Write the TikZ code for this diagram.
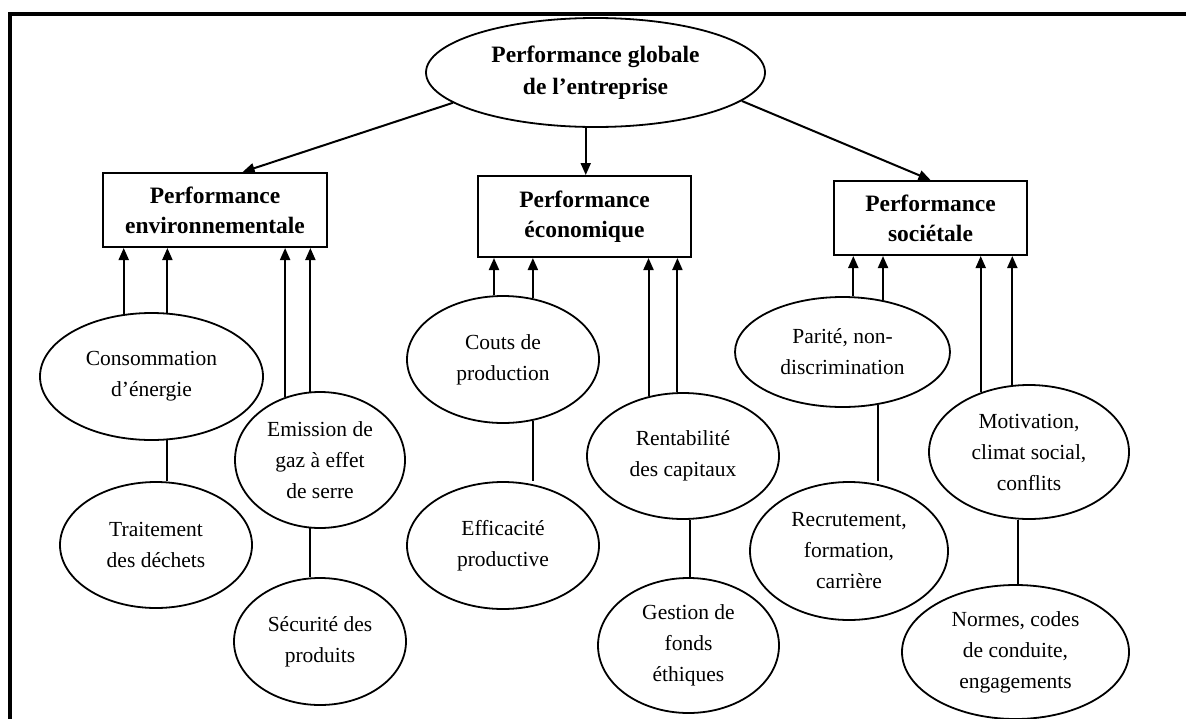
\documentclass[tikz,border=0pt]{standalone}
\usepackage{fontspec}
\setmainfont{Liberation Serif}
\usetikzlibrary{shapes.geometric,arrows.meta}

\tikzset{
  goal/.style={ellipse, draw, line width=1.8pt, inner sep=0pt, align=center,
    font=\bfseries\fontsize{23.5}{32}\selectfont},
  pillar/.style={rectangle, draw, line width=2pt, inner sep=0pt, align=center,
    font=\bfseries\fontsize{23.5}{30}\selectfont},
  factor/.style={ellipse, draw, line width=1.8pt, inner sep=0pt, align=center,
    font=\fontsize{21.5}{31}\selectfont},
  down/.style={-{Triangle[length=12pt,width=10pt]}, line width=2pt},
  up/.style={-{Triangle[length=12pt,width=10pt]}, line width=2pt},
  link/.style={line width=2pt},
}

\begin{document}
\begin{tikzpicture}[x=1pt,y=-1pt]
      \useasboundingbox (0,0) rectangle (1186,718);
      \draw[line width=4pt] (10,730) -- (10,14) -- (1200,14);
      \draw
        (595.5,72.5) node[goal, minimum width=339pt, minimum height=109pt] (global){Performance globale\\de l’entreprise}
        (215,210) node[pillar, minimum width=224pt, minimum height=74pt] (env){Performance\\environnementale}
        (584.5,216.5) node[pillar, minimum width=213pt, minimum height=81pt] (eco){Performance\\économique}
        (930.5,218) node[pillar, minimum width=193pt, minimum height=74pt] (soc){Performance\\sociétale}
        (151.5,376.5) node[factor, minimum width=223pt, minimum height=127pt] (energie){Consommation\\d’énergie}
        (156,545) node[factor, minimum width=192pt, minimum height=126pt] (dechets){Traitement\\des déchets}
        (320,460) node[factor, minimum width=170pt, minimum height=136pt] (gaz){Emission de\\gaz à effet\\de serre}
        (320,641.5) node[factor, minimum width=172pt, minimum height=127pt] (securite){Sécurité des\\produits}
        (503,359.5) node[factor, minimum width=192pt, minimum height=127pt] (couts){Couts de\\production}
        (503,545.5) node[factor, minimum width=192pt, minimum height=127pt] (efficacite){Efficacité\\productive}
        (683,456) node[factor, minimum width=192pt, minimum height=126pt] (rentab){Rentabilité\\des capitaux}
        (688.5,645.5) node[factor, minimum width=181pt, minimum height=135pt] (fonds){Gestion de\\fonds\\éthiques}
        (842.5,352) node[factor, minimum width=215pt, minimum height=110pt] (parite){Parité, non-\\discrimination}
        (849,551) node[factor, minimum width=198pt, minimum height=138pt] (recrut){Recrutement,\\formation,\\carrière}
        (1029,452) node[factor, minimum width=200pt, minimum height=134pt] (motiv){Motivation,\\climat social,\\conflits}
        (1015.5,652) node[factor, minimum width=227pt, minimum height=134pt] (normes){Normes, codes\\de conduite,\\engagements};
      \begin{scope}[down]
        \draw (global.192) to (env.54);
        \draw (global.260) to (global.260 |- eco.north);
        \draw (global.349) to (soc.north);
      \end{scope}
      \begin{scope}[up]
        \draw (energie.114) to (energie.114 |- env.south);
        \draw (energie.76) to (energie.76 |- env.south);
        \draw (gaz.119) to (gaz.119 |- env.south);
        \draw (gaz.98) to (gaz.98 |- env.south);
        \draw (couts.98) to (couts.98 |- eco.south);
        \draw (couts.64) to (couts.64 |- eco.south);
        \draw (rentab.120) to (rentab.120 |- eco.south);
        \draw (rentab.95) to (rentab.95 |- eco.south);
        \draw (parite.79) to (parite.79 |- soc.south);
        \draw (parite.52) to (parite.52 |- soc.south);
        \draw (motiv.129) to (motiv.129 |- soc.south);
        \draw (motiv.104) to (motiv.104 |- soc.south);
      \end{scope}
      \begin{scope}[link]
        \draw (energie.284) to (energie.284 |- dechets.north);
        \draw (gaz.262) to (gaz.262 |- securite.north);
        \draw (couts.296) to (couts.296 |- efficacite.north);
        \draw (rentab.276) to (rentab.276 |- fonds.north);
        \draw (parite.304) to (parite.304 |- recrut.north);
        \draw (motiv.261) to (motiv.261 |- normes.north);
      \end{scope}
    \end{tikzpicture}
\end{document}
